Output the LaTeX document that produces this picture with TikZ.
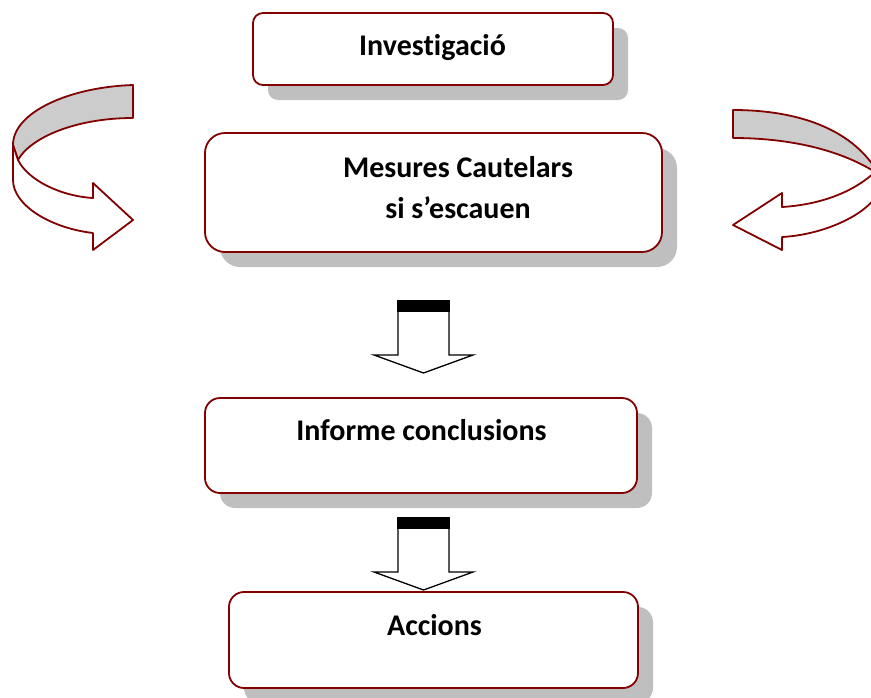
\documentclass[tikz,border=0pt]{standalone}
\usepackage{fontspec}
\setmainfont{Carlito}[Ligatures=NoCommon]
\usetikzlibrary{shadows,calc}
\definecolor{boxred}{RGB}{130,0,0}
\definecolor{shadowgray}{RGB}{191,191,191}
\definecolor{bandgray}{RGB}{204,204,204}
\tikzstyle{box} = [draw=boxred, line width=1.8pt, fill=white, inner sep=0pt, drop shadow={shadow xshift=15pt, shadow yshift=-15pt, fill=shadowgray, opacity=1}]
\tikzstyle{lbl} = [font=\bfseries\fontsize{30}{36}\selectfont, anchor=base, inner sep=0pt]
\tikzstyle{curl} = [draw=boxred, line width=1.8pt, line join=round]
\tikzstyle{blk} = [draw=black, line width=1.3pt, fill=white, line join=miter]

\begin{document}
\begin{tikzpicture}[x=1pt,y=-1pt]
	  \path[use as bounding box, clip] (0,0) rectangle (871,697);

	  % boxes
	  \node (inv) at (433,49) [box, rounded corners=10pt, minimum width=360pt, minimum height=72pt] {};
	  \node (mes) at (433.5,192.5) [box, rounded corners=20pt, minimum width=457pt, minimum height=119pt] {};
	  \node (inf) at (421,445.5) [box, rounded corners=15pt, minimum width=432pt, minimum height=95pt] {};
	  \node (acc) at (433.5,640) [box, rounded corners=15pt, minimum width=409pt, minimum height=96pt] {};

	  \node (invt) at (432.5,55) [lbl] {Investigació};
	  \node (mest) at (458,177) [lbl] {Mesures Cautelars};
	  \node (mest2) at (458,218) [lbl] {si s’escauen};
	  \node (inft) at (421.5,440) [lbl] {Informe conclusions};
	  \node (acct) at (434.5,635) [lbl] {Accions};

	  % block arrows
	  \coordinate (a1) at (423.5,300);
	  \coordinate (a2) at (423.5,517);
	  \foreach \p in {a1,a2} {
	    \draw[blk] (\p) ++(-25.5,12) -- ++(0,43) -- ++(-24,0) -- ++(49.5,18) -- ++(49.5,-18) -- ++(-24,0) -- ++(0,-43);
	    \fill[black] (\p) ++(-26.5,0) rectangle ++(53,12);
	  }

	  % curved arrow, left
	  \draw[curl, fill=bandgray] (133,85) .. controls (70,87) and (13,112) .. (13,145) -- (18,160) .. controls (30,138) and (75,118) .. (133,118) -- cycle;
	  \draw[curl, fill=white] (13,145) -- (13,180) .. controls (13,205) and (50,228) .. (93,233) -- (93,250) -- (133,220) -- (93,183) -- (93,198) .. controls (60,196) and (28,180) .. (18,160) -- cycle;

	  % curved arrow, right
	  \draw[curl, fill=bandgray] (733,110) .. controls (800,110) and (850,130) .. (875,168) -- (875,172) .. controls (840,150) and (790,138) .. (733,138) -- cycle;
	  \draw[curl, fill=white] (875,172) .. controls (850,195) and (815,205) .. (782,207) -- (782,193) -- (733,225) -- (782,250) -- (782,237) .. controls (820,235) and (860,218) .. (875,198) -- cycle;
	\end{tikzpicture}
\end{document}
